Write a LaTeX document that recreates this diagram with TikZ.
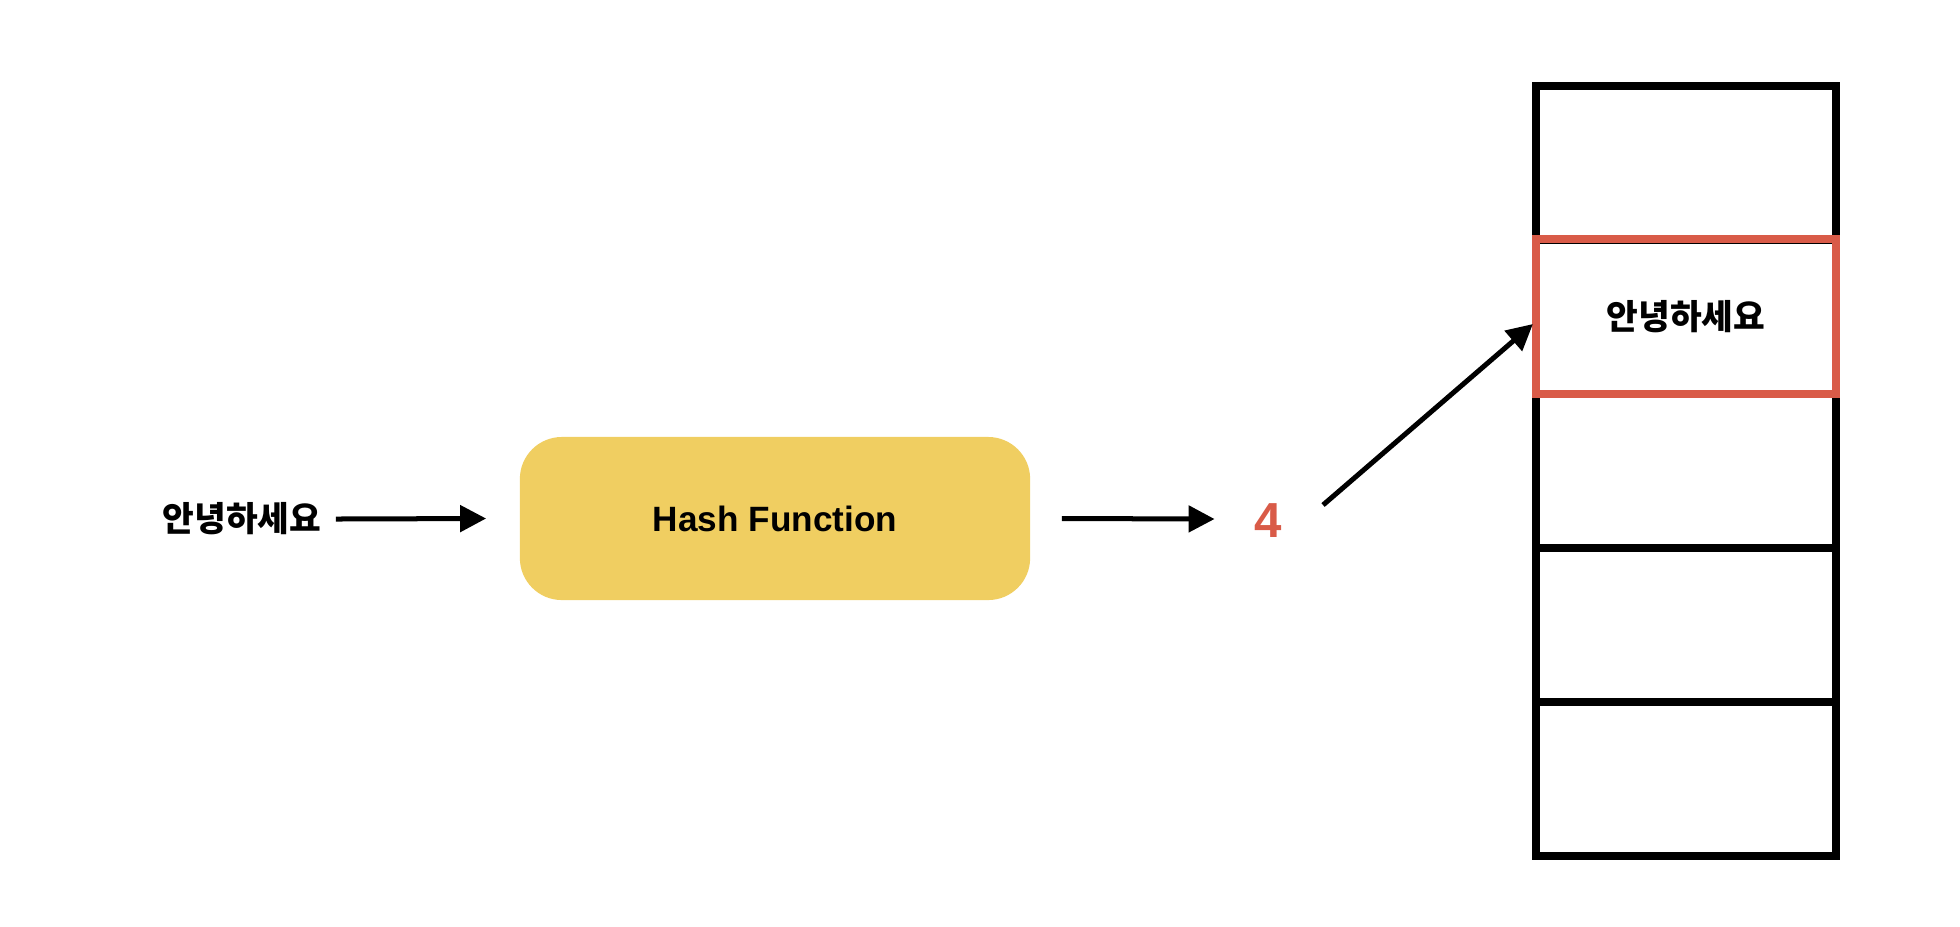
\documentclass[tikz,border=0pt]{standalone}
\usepackage{fontspec}
\newfontfamily\kr{Noto Sans CJK KR}
\newfontfamily\lat{Liberation Sans}
\usetikzlibrary{arrows.meta}
\definecolor{hashyellow}{HTML}{F0CE61}
\definecolor{hashred}{HTML}{D95B48}
\tikzset{
  arr/.style={line width=0.05cm, -{Triangle[length=0.26cm,width=0.26cm]}},
  cell/.style={draw=black, line width=0.08cm, minimum width=3cm, minimum height=1.54cm, inner sep=0pt, outer sep=0pt},
  hotcell/.style={cell, draw=hashred},
  krtext/.style={font=\kr\bfseries\fontsize{9.8}{12}\selectfont, inner sep=0pt},
  hashbox/.style={fill=hashyellow, rounded corners=0.42cm, minimum width=5.1cm, minimum height=1.63cm, inner sep=0pt, font=\lat\bfseries\fontsize{10}{12}\selectfont},
  numtext/.style={font=\lat\bfseries\fontsize{14}{17}\selectfont, text=hashred, inner sep=0pt}
}
\begin{document}
\begin{tikzpicture}[x=0.01cm,y=-0.01cm]
\useasboundingbox (0,0) rectangle (1960,926);
% table cells
\node[cell] (c1) at (1686,163) {};
\node[cell] (c3) at (1686,471) {};
\node[cell] (c4) at (1686,625) {};
\node[cell] (c5) at (1686,779) {};
\node[hotcell, krtext] (c2) at (1686,316.5) {안녕하세요};
% left chain
\node[krtext] (k1) at (242,519) {안녕하세요};
\node[hashbox] (hf) at (775,518.5) {Hash Function};
\node[numtext] (four) at (1268,521) {4};
\draw[arr] ([xshift=0.14cm]k1.east) -- ([xshift=-0.33cm]hf.west);
\draw[arr] ([xshift=0.31cm]hf.east) -- ([xshift=-0.39cm,yshift=0.02cm]four.west);
\draw[arr] ([xshift=0.55cm,yshift=0.16cm]four.center) -- ([xshift=-0.03cm,yshift=-0.075cm]c2.west);
\end{tikzpicture}
\end{document}
